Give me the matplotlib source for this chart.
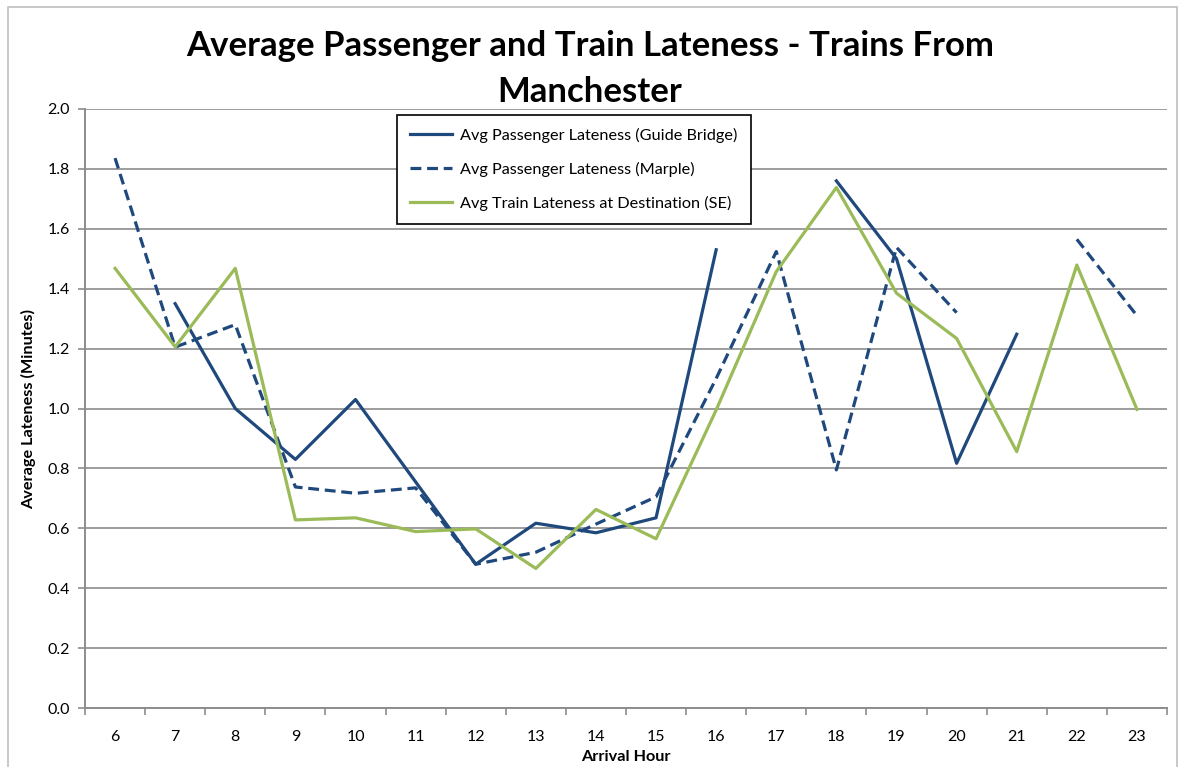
import numpy as np
import matplotlib
matplotlib.use("Agg")
import matplotlib.pyplot as plt
from matplotlib.patches import Rectangle

# ---------------- data ----------------
hours = [6, 7, 8, 9, 10, 11, 12, 13, 14, 15, 16, 17, 18, 19, 20, 21, 22, 23]
guide_bridge = [np.nan, 1.35, 1.00, 0.83, 1.03, 0.755, 0.48, 0.617, 0.585, 0.635,
                1.53, np.nan, 1.76, 1.50, 0.817, 1.248, np.nan, np.nan]
marple = [1.836, 1.205, 1.28, 0.738, 0.717, 0.735, 0.48, 0.52, 0.614, 0.705,
          1.10, 1.524, 0.795, 1.538, 1.32, np.nan, 1.565, 1.31]
train_se = [1.468, 1.206, 1.468, 0.628, 0.635, 0.589, 0.598, 0.466, 0.663, 0.565,
            0.995, 1.457, 1.738, 1.385, 1.234, 0.856, 1.479, 0.997]

NAVY = "#1F497D"
GREEN = "#9BBB59"
GRID = "#8C8C8C"

plt.rcParams['font.family'] = ['Lato', 'DejaVu Sans']

fig = plt.figure(figsize=(11.8, 7.67), dpi=100)
ax = fig.add_axes([85 / 1180, 1 - 708 / 767, (1167 - 85) / 1180, (708 - 109) / 767])

# outer chart border (bottom edge falls outside the picture)
fig.patches.append(Rectangle((8 / 1180, 1 - 800 / 767), (1177 - 8) / 1180, (800 - 7) / 767,
                             transform=fig.transFigure, fill=False, edgecolor="#BFBFBF",
                             lw=1.2, clip_on=False))

x = np.arange(len(hours))
ax.plot(x, guide_bridge, color=NAVY, lw=2.3, label="Avg Passenger Lateness (Guide Bridge)")
ax.plot(x, marple, color=NAVY, lw=2.3, ls=(0, (3.4, 1.8)), label="Avg Passenger Lateness (Marple)")
ax.plot(x, train_se, color=GREEN, lw=2.3, label="Avg Train Lateness at Destination (SE)")

ax.set_xlim(-0.5, len(hours) - 0.5)
ax.set_ylim(0, 2.0)
ax.set_yticks(np.arange(0, 2.01, 0.2))
ax.set_yticklabels([f"{v:.1f}" for v in np.arange(0, 2.01, 0.2)])
ax.set_xticks(x)
ax.set_xticklabels([str(h) for h in hours])
ax.set_xticks(np.arange(-0.5, len(hours), 1), minor=True)
ax.tick_params(axis='x', which='major', length=0, labelsize=11.5, pad=16)
ax.tick_params(axis='x', which='minor', length=5, color=GRID, width=1.2)
ax.tick_params(axis='y', length=5, color=GRID, width=1.2, labelsize=11.5, pad=6)

ax.grid(axis='y', color=GRID, lw=1.2)
ax.set_axisbelow(True)
for s in ['top', 'right']:
    ax.spines[s].set_visible(False)
for s in ['left', 'bottom']:
    ax.spines[s].set_color(GRID)
    ax.spines[s].set_linewidth(1.4)

ax.set_xlabel("Arrival Hour", fontsize=11.7, fontweight='bold', labelpad=4)
ax.set_ylabel("Average Lateness (Minutes)", fontsize=11.7, fontweight='bold', labelpad=8)

fig.text(0.5, 1 - 46 / 767, "Average Passenger and Train Lateness - Trains From",
         ha='center', va='center', fontsize=25, fontweight='bold')
fig.text(0.5, 1 - 92 / 767, "Manchester",
         ha='center', va='center', fontsize=25, fontweight='bold')

leg = ax.legend(loc='upper left', bbox_to_anchor=((397 - 85) / 1082, 1 - (115 - 109) / 599),
                borderaxespad=0, fontsize=11.7, frameon=True, fancybox=False, framealpha=1,
                edgecolor='black', handlelength=2.6, handletextpad=0.5,
                labelspacing=1.15, borderpad=0.8)
leg.get_frame().set_linewidth(1.2)

fig.savefig("out.png", dpi=100)
